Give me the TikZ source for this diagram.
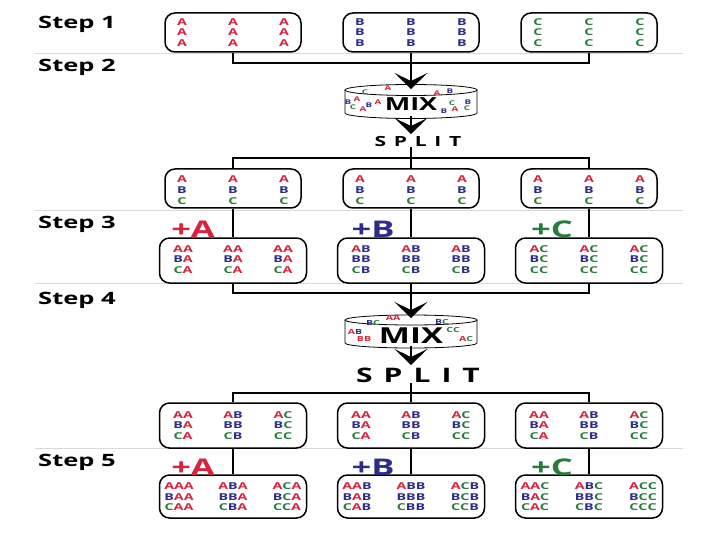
\documentclass[tikz,border=0pt]{standalone}
\usepackage{fontspec}
\setmainfont{Open Sans}[FakeStretch=1.5]
\usetikzlibrary{arrows.meta}
\definecolor{cA}{RGB}{215,35,60}
\definecolor{cB}{RGB}{45,45,135}
\definecolor{cC}{RGB}{40,125,60}
\newcommand\colet[1]{\textcolor{c#1}{#1}}
\tikzset{
  box/.style={draw, line width=1.5pt, rounded corners=10pt, minimum width=136pt, minimum height=39pt},
  widebox/.style={box, minimum width=147pt, minimum height=45pt},
  lett/.style={font=\bfseries\fontsize{9.5}{10}\selectfont, inner sep=0pt},
  steplbl/.style={font=\bfseries\fontsize{17}{17}\selectfont, anchor=base west, inner sep=0pt},
  sepline/.style={gray!30, line width=0.8pt},
  link/.style={line width=1.7pt},
  bigarrow/.style={line width=1.7pt, -{Stealth[length=16pt, width=33pt, inset=8pt]}},
  plus/.style={font=\bfseries\fontsize{23}{23}\selectfont, inner sep=0pt},
  cylline/.style={line width=0.8pt},
  tiny/.style={font=\bfseries\fontsize{6.5}{6.5}\selectfont, inner sep=0pt},
  splittxt/.style={font=\bfseries\fontsize{#1}{#1}\selectfont\addfontfeatures{LetterSpace=55}, inner sep=0pt}
}
\begin{document}
\begin{tikzpicture}[x=1pt,y=-1pt]
\useasboundingbox (0,0) rectangle (720,540);
% separators
\draw[sepline] (35,53) -- (683,53);
\draw[sepline] (35,210) -- (683,210);
\draw[sepline] (35,283) -- (683,283);
\draw[sepline] (35,448) -- (683,448);
% step labels
\node[steplbl] (st1) at (38,29) {Step 1};
\node[steplbl] (st2) at (38,72) {Step 2};
\node[steplbl] (st3) at (38,229) {Step 3};
\node[steplbl] (st4) at (38,304) {Step 4};
\node[steplbl] (st5) at (38,466) {Step 5};
% boxes with letters
\foreach \k [count=\j] in {A,B,C} {
  \node[box] (r1\k) at ({55+178*\j},32.5) {};
  \node[box] (r2\k) at ({55+178*\j},188.5) {};
  \node[widebox] (r3\k) at ({55+178*\j},260.5) {};
  \node[widebox] (r4\k) at ({55+178*\j},425.5) {};
  \node[widebox, minimum height=43pt] (r5\k) at ({55+178*\j},496.5) {};
  \foreach \r [count=\m] in {A,B,C}
    \foreach \c [count=\n] in {A,B,C} {
      \node[lett] (r1\k\r\c) at ({55+178*\j+51*(\n-2)},{32.5+10.5*(\m-2)}) {\colet{\k}};
      \node[lett] (r2\k\r\c) at ({55+178*\j+51*(\n-2)},{190+11*(\m-2)}) {\colet{\r}};
      \node[lett] (r3\k\r\c) at ({55+178*\j+50*(\n-2)},{259.5+10.5*(\m-2)}) {\colet{\r}\colet{\k}};
      \node[lett] (r4\k\r\c) at ({55+178*\j+50*(\n-2)},{425.5+10.5*(\m-2)}) {\colet{\r}\colet{\c}};
      \node[lett] (r5\k\r\c) at ({55+178*\j+54*(\n-2)},{497+10.5*(\m-2)}) {\colet{\r}\colet{\c}\colet{\k}};
    }
}
% plus labels
\node[plus, text=cA] (p3A) at (193,229) {+A};
\node[plus, text=cB] (p3B) at (373,229) {+B};
\node[plus, text=cC] (p3C) at (552,229) {+C};
\node[plus, text=cA] (p5A) at (193,467) {+A};
\node[plus, text=cB] (p5B) at (373,467) {+B};
\node[plus, text=cC] (p5C) at (552,467) {+C};
% step 2: mix and split
\coordinate (j1) at (411,63);
\draw[link] (r1A.south) |- (j1);
\draw[link] (r1C.south) |- (j1);
\draw[link] (r1B.south) -- (j1);
\draw[cylline] (411,90) ellipse [x radius=66, y radius=5.5];
\draw[cylline] (345,90) -- (345,113) arc[start angle=180, end angle=0, x radius=66, y radius=5.5] -- (477,90);
\coordinate (c1top) at (411,89);
\coordinate (c1bot) at (411,116);
\node[font=\bfseries\fontsize{18}{18}\selectfont, inner sep=0pt] (mix1) at (411,104) {MIX};
\foreach \x/\y/\t [count=\i] in {365/92/C, 388/88/A, 437/93/A, 450/91/B, 348/102/B, 357/99/A,
  353/107/C, 363/109/A, 369/105/B, 378/102/A, 452/103/C, 468/102/B, 444/111/B, 455/109/A, 467/108/C}
  \node[tiny] (ma\i) at (\x,\y) {\colet{\t}};
\draw[bigarrow] (j1) -- (c1top);
\node[splittxt=14] (split1) at (418,142) {SPLIT};
\draw[bigarrow] (c1bot) -- (411,134);
\coordinate (j2) at (411,158);
\draw[link] (j2) -- (j2 |- split1.south);
\draw[link] (j2) -| (r2A.north);
\draw[link] (j2) -| (r2C.north);
\draw[link] (j2) -- (r2B.north);
% step 3
\draw[link] (r2A.south) -- (r3A.north);
\draw[link] (r2B.south) -- (r3B.north);
\draw[link] (r2C.south) -- (r3C.north);
% step 4: mix and split
\coordinate (j3) at (411,293);
\draw[link] (r3A.south) |- (j3);
\draw[link] (r3C.south) |- (j3);
\draw[link] (r3B.south) -- (j3);
\draw[cylline] (411,320) ellipse [x radius=66, y radius=5];
\draw[cylline] (345,320) -- (345,343) arc[start angle=180, end angle=0, x radius=66, y radius=5] -- (477,320);
\coordinate (c2top) at (411,318);
\coordinate (c2bot) at (411,346);
\node[font=\bfseries\fontsize{22}{22}\selectfont, inner sep=0pt] (mix2) at (411,336) {MIX};
\foreach \x/\y/\t [count=\i] in {373/323/{\colet{B}\colet{C}}, 393/318/{\colet{A}\colet{A}},
  442/322/{\colet{B}\colet{C}}, 355/332/{\colet{A}\colet{B}}, 364/339/{\textcolor{cA}{BB}},
  453/330/{\colet{C}\colet{C}}, 466/339/{\colet{A}\colet{C}}}
  \node[tiny, font=\bfseries\fontsize{7}{7}\selectfont] (mb\i) at (\x,\y) {\t};
\draw[bigarrow] (j3) -- (c2top);
\node[splittxt=20] (split2) at (418,375) {SPLIT};
\draw[bigarrow] (c2bot) -- (411,365);
\coordinate (j4) at (411,393);
\draw[link] (j4) -- (j4 |- split2.south);
\draw[link] (j4) -| (r4A.north);
\draw[link] (j4) -| (r4C.north);
\draw[link] (j4) -- (r4B.north);
% step 5
\draw[link] (r4A.south) -- (r5A.north);
\draw[link] (r4B.south) -- (r5B.north);
\draw[link] (r4C.south) -- (r5C.north);
\end{tikzpicture}
\end{document}
